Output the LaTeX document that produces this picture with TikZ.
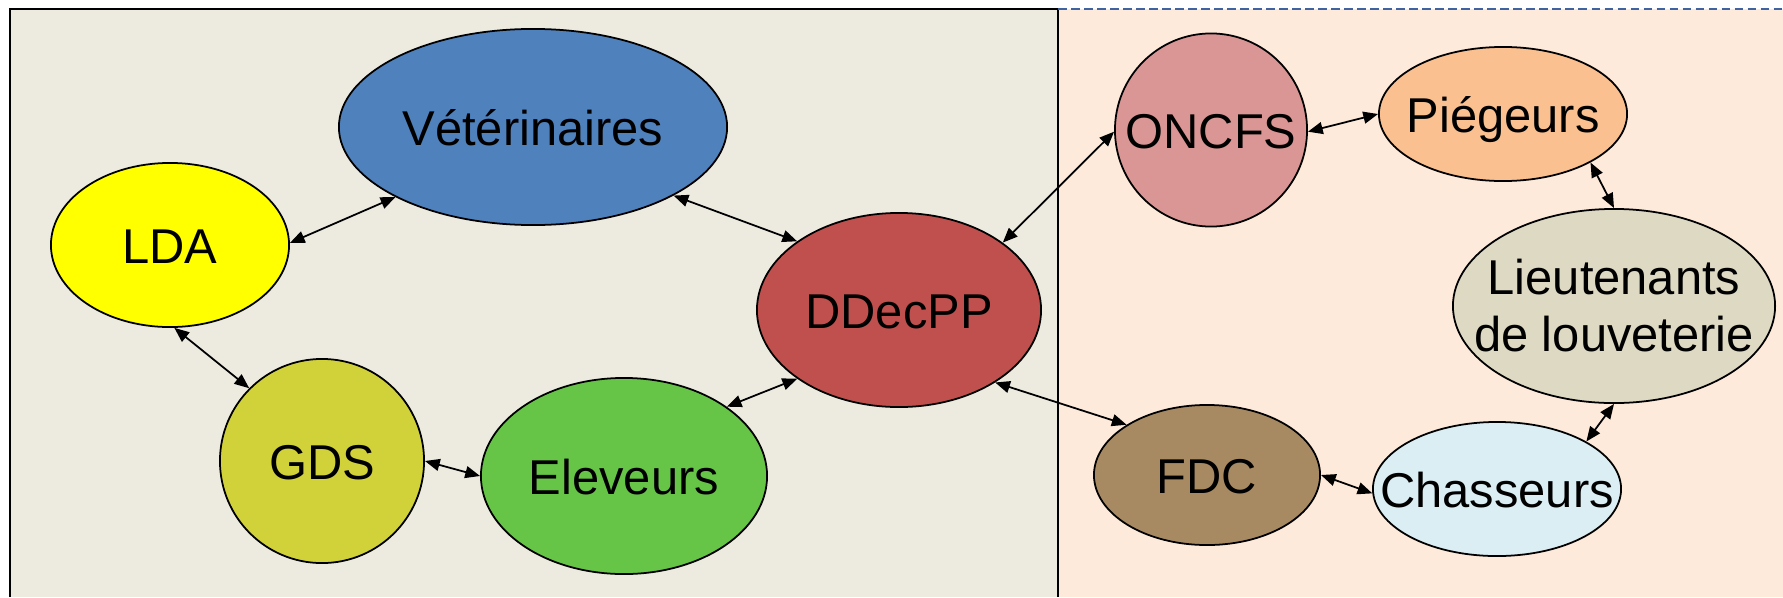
\documentclass[tikz,border=0pt]{standalone}
\usepackage{fontspec}
\setmainfont{Liberation Sans}
\usepackage{tikz}
\usetikzlibrary{shapes.geometric}
\usetikzlibrary{arrows.meta}

\definecolor{fondgauche}{HTML}{EDEBE0}
\definecolor{fonddroite}{HTML}{FDEADA}
\definecolor{tirets}{HTML}{3F63A0}
\definecolor{bleuvet}{HTML}{4F81BD}
\definecolor{jaunelda}{HTML}{FFFF00}
\definecolor{olivegds}{HTML}{D1D23A}
\definecolor{vertele}{HTML}{66C547}
\definecolor{rougeddpp}{HTML}{C0504D}
\definecolor{roseoncfs}{HTML}{D99694}
\definecolor{orangepieg}{HTML}{FAC090}
\definecolor{beigelieut}{HTML}{DDD9C3}
\definecolor{brunfdc}{HTML}{A88A62}
\definecolor{cielchas}{HTML}{DAEEF3}

\tikzset{
  acteur/.style={ellipse, draw, line width=0.5pt, inner sep=0pt},
  lien/.style={{Triangle[length=4.2pt,width=3.4pt]}-{Triangle[length=4.2pt,width=3.4pt]}, line width=0.5pt},
  every label/.style={text height=10.4pt, text depth=0pt}
}

\begin{document}
\begin{tikzpicture}[x=0.01cm, y=-0.01cm, font=\fontsize{13.9pt}{16.2pt}\selectfont]
      \useasboundingbox (0,0) rectangle (1783,597);
      \fill[fondgauche] (10,9) rectangle (1058,597);
      \fill[fonddroite] (1058,9) rectangle (1783,597);
      \draw[line width=0.6pt] (10,597) -- (10,9) -- (1058,9) -- (1058,597);
      \draw[tirets, line width=0.8pt, dash pattern=on 2.5pt off 1.2pt] (1058,9) -- (1783,9);

      \node[acteur, fill=bleuvet, minimum width=3.88cm, minimum height=1.96cm, label=center:Vétérinaires] (vet) at (533,127) {};
      \node[acteur, fill=jaunelda, minimum width=2.38cm, minimum height=1.64cm, label=center:LDA] (lda) at (170,245) {};
      \node[acteur, fill=olivegds, minimum width=2.04cm, minimum height=2.04cm, label=center:GDS] (gds) at (322,461) {};
      \node[acteur, fill=vertele, minimum width=2.86cm, minimum height=1.96cm, label=center:Eleveurs] (ele) at (624,476) {};
      \node[acteur, fill=rougeddpp, minimum width=2.84cm, minimum height=1.94cm, label=center:DDecPP] (ddpp) at (899,310) {};
      \node[acteur, fill=roseoncfs, minimum width=1.92cm, minimum height=1.93cm, label=center:ONCFS] (oncfs) at (1211,130) {};
      \node[acteur, fill=orangepieg, minimum width=2.48cm, minimum height=1.34cm, label=center:Piégeurs] (pieg) at (1503,114) {};
      \node[acteur, fill=beigelieut, minimum width=3.22cm, minimum height=1.94cm, label={[text height={}, text depth={}, align=center]center:Lieutenants\\de louveterie}] (lieut) at (1614,306) {};
      \node[acteur, fill=brunfdc, minimum width=2.26cm, minimum height=1.40cm, label=center:FDC] (fdc) at (1207,475) {};
      \node[acteur, fill=cielchas, minimum width=2.48cm, minimum height=1.34cm, label=center:Chasseurs] (chas) at (1497,489) {};

      \draw[lien] (lda.1) -- (vet.207);
      \draw[lien] (vet.-26) -- (ddpp.146);
      \draw[lien] (lda.-87) -- (gds.135);
      \draw[lien] (gds.0) -- (ele.180);
      \draw[lien] (ddpp.214) -- (ele.34);
      \draw[lien] (ddpp.33) -- (oncfs.181);
      \draw[lien] (ddpp.-37) -- (fdc.148);
      \draw[lien] (oncfs.-1) -- (pieg.180);
      \draw[lien] (pieg.-29) -- (lieut.90);
      \draw[lien] (lieut.270) -- (chas.28);
      \draw[lien] (fdc.0) -- (chas.182);
\end{tikzpicture}
\end{document}
